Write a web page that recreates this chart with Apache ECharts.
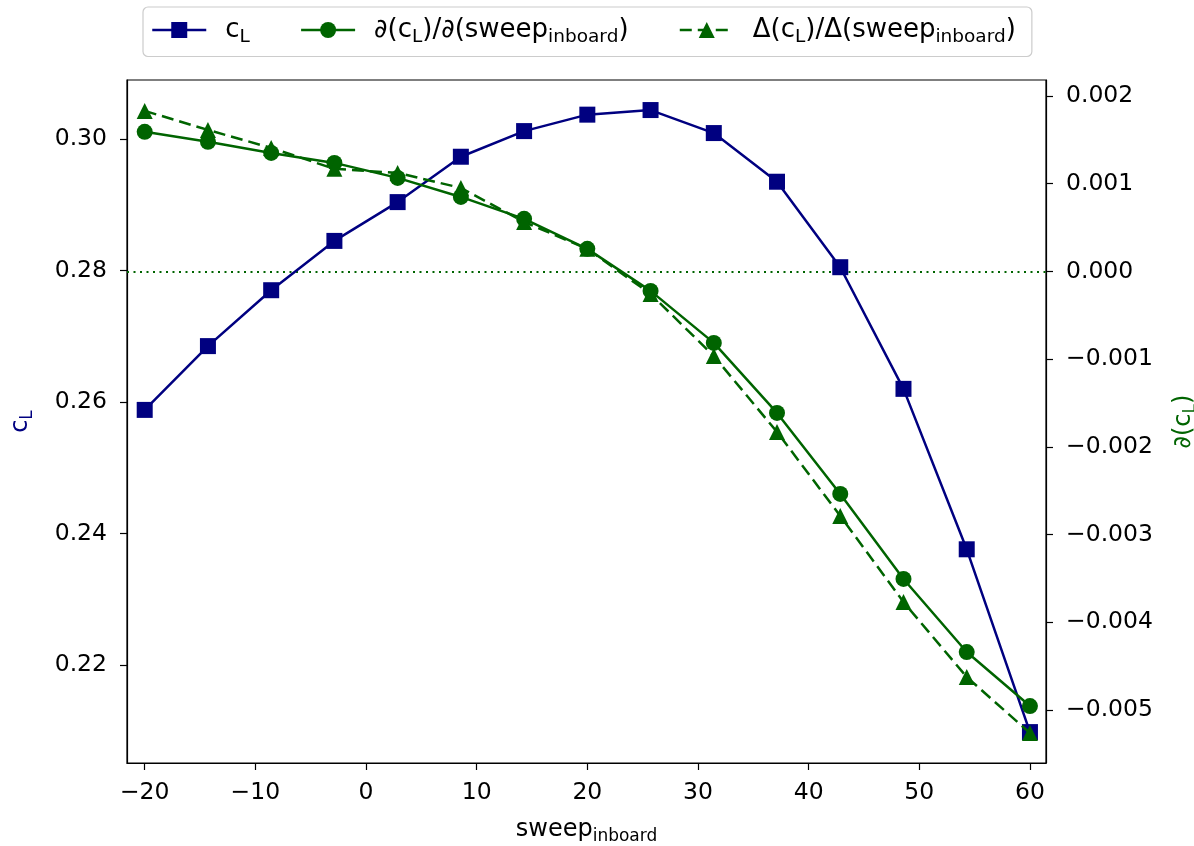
<!DOCTYPE html>
<html><head><meta charset="utf-8">
<script src="https://cdn.jsdelivr.net/npm/echarts@6/dist/echarts.min.js"></script>
<style>html,body{margin:0;padding:0;background:#fff;overflow:hidden}#c{width:1194px;height:846px}</style>
</head><body><div id="c"></div>
<script>
const sweep = [-20, -14.286, -8.571, -2.857, 2.857, 8.571, 14.286, 20, 25.714, 31.429, 37.143, 42.857, 48.571, 54.286, 60];
const cL = [0.2588, 0.2685, 0.2770, 0.2845, 0.2904, 0.2973, 0.3012, 0.3037, 0.3044, 0.3009, 0.2935, 0.2805, 0.2620, 0.2376, 0.2098];
const dcl = [0.001591, 0.001477, 0.001351, 0.001237, 0.001066, 0.000849, 0.000599, 0.000257, -0.000222, -0.000815, -0.001613, -0.002537, -0.003506, -0.004339, -0.004955];
const Dcl = [0.001830, 0.001613, 0.001408, 0.001169, 0.001123, 0.000952, 0.000564, 0.000257, -0.000257, -0.000964, -0.001830, -0.002788, -0.003769, -0.004624, -0.005262];
const xTicks = [-20, -10, 0, 10, 20, 30, 40, 50, 60];
const leftTicks = [0.22, 0.24, 0.26, 0.28, 0.30];
const rightTicks = [-0.005, -0.004, -0.003, -0.002, -0.001, 0, 0.001, 0.002];

const FONT = 'DejaVu Sans';
const NAVY = '#000080', GREEN = '#006400';
const TICKFS = 23.5;
const minus = s => s.replace('-', '\u2212');
const mkRich = (color, main, sub, drop) => ({
  g: { width: 14 },
  n: { fontFamily: FONT, fontSize: main, color: color },
  s: { fontFamily: FONT, fontSize: sub, color: color, padding: [drop, 0, 0, 0] }
});
const legendNames = {
  cL: '{g|}{n|c}{s|L}',
  dcl: '{g|}{n|\u2202(c}{s|L}{n|)/\u2202(sweep}{s|inboard}{n|)}',
  Dcl: '{g|}{n|\u0394(c}{s|L}{n|)/\u0394(sweep}{s|inboard}{n|)}'
};
const pts = arr => sweep.map((x, i) => [x, arr[i]]);

const chart = echarts.init(document.getElementById('c'), null, { renderer: 'canvas' });
chart.setOption({
  animation: false,
  backgroundColor: '#fff',
  textStyle: { fontFamily: FONT },
  grid: { left: 127, right: 148, top: 80, bottom: 83, show: true, borderColor: '#000', borderWidth: 1.2, containLabel: false, outerBoundsMode: 'none' },
  legend: {
    data: ['cL', 'dcl', 'Dcl'],
    top: 7, left: 143,
    borderColor: '#cccccc', borderWidth: 1.2, borderRadius: 5,
    padding: [10, 16, 10, 8], itemGap: 50, itemWidth: 54, itemHeight: 20,
    lineStyle: { width: 2.5 },
    formatter: n => legendNames[n],
    textStyle: { fontFamily: FONT, fontSize: 26, color: '#000', rich: mkRich('#000', 26, 18.5, 14) }
  },
  xAxis: {
    type: 'value', min: -21.6, max: 61.45,
    name: '{n|sweep}{s|inboard}', nameLocation: 'middle', nameGap: 51,
    nameTextStyle: { color: '#000', rich: mkRich('#000', 24, 17, 14) },
    axisLine: { show: true, onZero: false, lineStyle: { color: '#000', width: 1.2 } },
    axisTick: { show: true, inside: false, length: 7, lineStyle: { color: '#000', width: 1.2 }, customValues: xTicks },
    axisLabel: { fontFamily: FONT, fontSize: TICKFS, color: '#000', margin: 18, customValues: xTicks, formatter: v => minus(String(Math.round(v))) },
    splitLine: { show: false }
  },
  yAxis: [
    {
      type: 'value', position: 'left', min: 0.2051, max: 0.30897,
      name: '{n|c}{s|L}', nameLocation: 'middle', nameRotate: 90, nameGap: 91,
      nameTextStyle: { color: NAVY, rich: mkRich(NAVY, 24, 17, 14) },
      axisLine: { show: true, onZero: false, lineStyle: { color: '#000', width: 1.2 } },
      axisTick: { show: true, inside: false, length: 7, lineStyle: { color: '#000', width: 1.2 }, customValues: leftTicks },
      axisLabel: { fontFamily: FONT, fontSize: TICKFS, color: '#000', margin: 20, customValues: leftTicks, formatter: v => minus(v.toFixed(2)) },
      splitLine: { show: false }
    },
    {
      type: 'value', position: 'right', min: -0.005604, max: 0.002182,
      name: '{n|\u2202(c}{s|L}{n|)}', nameLocation: 'middle', nameRotate: 90, nameGap: 122,
      nameTextStyle: { color: GREEN, rich: mkRich(GREEN, 24, 17, 14) },
      axisLine: { show: true, onZero: false, lineStyle: { color: '#000', width: 1.2 } },
      axisTick: { show: true, inside: false, length: 7, lineStyle: { color: '#000', width: 1.2 }, customValues: rightTicks },
      axisLabel: { fontFamily: FONT, fontSize: TICKFS, color: '#000', margin: 20, customValues: rightTicks, formatter: v => minus(v.toFixed(3)) },
      splitLine: { show: false }
    }
  ],
  series: [
    {
      type: 'line', yAxisIndex: 1, data: [], z: 1, silent: true,
      markLine: {
        silent: true, symbol: 'none', z: 1,
        label: { show: false },
        lineStyle: { color: GREEN, type: [2, 4.5], width: 2 },
        data: [{ yAxis: 0 }]
      }
    },
    {
      name: 'cL', type: 'line', yAxisIndex: 0, data: pts(cL), z: 2,
      symbol: 'rect', symbolSize: 16, color: NAVY,
      itemStyle: { color: NAVY }, lineStyle: { color: NAVY, width: 2.5 }
    },
    {
      name: 'dcl', type: 'line', yAxisIndex: 1, data: pts(dcl), z: 3,
      symbol: 'circle', symbolSize: 16, color: GREEN,
      itemStyle: { color: GREEN }, lineStyle: { color: GREEN, width: 2.5 }
    },
    {
      name: 'Dcl', type: 'line', yAxisIndex: 1, data: pts(Dcl), z: 4,
      symbol: 'triangle', symbolSize: 16, color: GREEN,
      itemStyle: { color: GREEN }, lineStyle: { color: GREEN, width: 2.5, type: [12, 6] }
    }
  ]
});
</script>
</body></html>
